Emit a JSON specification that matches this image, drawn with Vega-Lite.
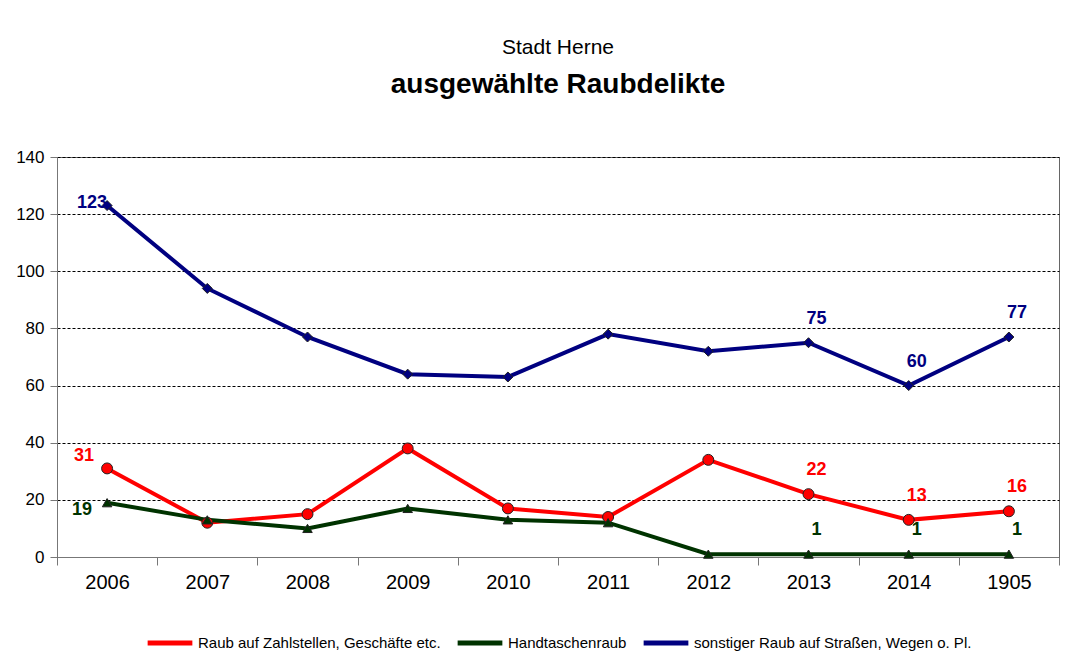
{
  "$schema": "https://vega.github.io/schema/vega-lite/v6.json",
  "width": 1002,
  "height": 400,
  "autosize": {"type": "none"},
  "padding": {"left": 57, "top": 157, "right": 27, "bottom": 105},
  "background": "white",
  "title": {
    "text": "Stadt Herne",
    "subtitle": "ausgewählte Raubdelikte",
    "font": "Liberation Sans",
    "fontSize": 21,
    "fontWeight": "normal",
    "color": "black",
    "subtitleFont": "Liberation Sans",
    "subtitleFontSize": 28,
    "subtitleFontWeight": "bold",
    "subtitleColor": "black",
    "subtitlePadding": 13,
    "anchor": "middle",
    "offset": 49
  },
  "data": {
    "values": [
      {"jahr": "2006", "serie": "Raub auf Zahlstellen, Geschäfte etc.", "wert": 31},
      {"jahr": "2007", "serie": "Raub auf Zahlstellen, Geschäfte etc.", "wert": 12},
      {"jahr": "2008", "serie": "Raub auf Zahlstellen, Geschäfte etc.", "wert": 15},
      {"jahr": "2009", "serie": "Raub auf Zahlstellen, Geschäfte etc.", "wert": 38},
      {"jahr": "2010", "serie": "Raub auf Zahlstellen, Geschäfte etc.", "wert": 17},
      {"jahr": "2011", "serie": "Raub auf Zahlstellen, Geschäfte etc.", "wert": 14},
      {"jahr": "2012", "serie": "Raub auf Zahlstellen, Geschäfte etc.", "wert": 34},
      {"jahr": "2013", "serie": "Raub auf Zahlstellen, Geschäfte etc.", "wert": 22},
      {"jahr": "2014", "serie": "Raub auf Zahlstellen, Geschäfte etc.", "wert": 13},
      {"jahr": "1905", "serie": "Raub auf Zahlstellen, Geschäfte etc.", "wert": 16},
      {"jahr": "2006", "serie": "Handtaschenraub", "wert": 19},
      {"jahr": "2007", "serie": "Handtaschenraub", "wert": 13},
      {"jahr": "2008", "serie": "Handtaschenraub", "wert": 10},
      {"jahr": "2009", "serie": "Handtaschenraub", "wert": 17},
      {"jahr": "2010", "serie": "Handtaschenraub", "wert": 13},
      {"jahr": "2011", "serie": "Handtaschenraub", "wert": 12},
      {"jahr": "2012", "serie": "Handtaschenraub", "wert": 1},
      {"jahr": "2013", "serie": "Handtaschenraub", "wert": 1},
      {"jahr": "2014", "serie": "Handtaschenraub", "wert": 1},
      {"jahr": "1905", "serie": "Handtaschenraub", "wert": 1},
      {"jahr": "2006", "serie": "sonstiger Raub auf Straßen, Wegen o. Pl.", "wert": 123},
      {"jahr": "2007", "serie": "sonstiger Raub auf Straßen, Wegen o. Pl.", "wert": 94},
      {"jahr": "2008", "serie": "sonstiger Raub auf Straßen, Wegen o. Pl.", "wert": 77},
      {"jahr": "2009", "serie": "sonstiger Raub auf Straßen, Wegen o. Pl.", "wert": 64},
      {"jahr": "2010", "serie": "sonstiger Raub auf Straßen, Wegen o. Pl.", "wert": 63},
      {"jahr": "2011", "serie": "sonstiger Raub auf Straßen, Wegen o. Pl.", "wert": 78},
      {"jahr": "2012", "serie": "sonstiger Raub auf Straßen, Wegen o. Pl.", "wert": 72},
      {"jahr": "2013", "serie": "sonstiger Raub auf Straßen, Wegen o. Pl.", "wert": 75},
      {"jahr": "2014", "serie": "sonstiger Raub auf Straßen, Wegen o. Pl.", "wert": 60},
      {"jahr": "1905", "serie": "sonstiger Raub auf Straßen, Wegen o. Pl.", "wert": 77}
    ]
  },
  "encoding": {
    "x": {
      "field": "jahr",
      "type": "ordinal",
      "sort": ["2006", "2007", "2008", "2009", "2010", "2011", "2012", "2013", "2014", "1905"],
      "scale": {"type": "band", "paddingInner": 0, "paddingOuter": 0},
      "axis": {
        "title": null,
        "labelAngle": 0,
        "tickBand": "extent",
        "ticks": true,
        "tickSize": 8,
        "tickColor": "#777777",
        "domainColor": "#777777",
        "labelFont": "Liberation Sans",
        "labelFontSize": 20,
        "labelColor": "black",
        "labelPadding": 7,
        "grid": false
      }
    },
    "y": {
      "field": "wert",
      "type": "quantitative",
      "scale": {"domain": [0, 140], "nice": false, "zero": true},
      "axis": {
        "title": null,
        "values": [0, 20, 40, 60, 80, 100, 120, 140],
        "tickSize": 7,
        "tickColor": "#777777",
        "domainColor": "#777777",
        "labelFont": "Liberation Sans",
        "labelFontSize": 17,
        "labelColor": "black",
        "labelPadding": 6,
        "grid": true,
        "gridColor": "#000000",
        "gridDash": [3, 2],
        "gridWidth": 1
      }
    },
    "color": {
      "field": "serie",
      "type": "nominal",
      "sort": ["Raub auf Zahlstellen, Geschäfte etc.", "Handtaschenraub", "sonstiger Raub auf Straßen, Wegen o. Pl."],
      "scale": {
        "domain": ["Raub auf Zahlstellen, Geschäfte etc.", "Handtaschenraub", "sonstiger Raub auf Straßen, Wegen o. Pl."],
        "range": ["#ff0000", "#003300", "#000080"]
      },
      "legend": {
        "title": null,
        "orient": "bottom",
        "direction": "horizontal",
        "offset": 26,
        "symbolType": "stroke",
        "symbolStrokeWidth": 5,
        "symbolSize": 2000,
        "labelFont": "Liberation Sans",
        "labelFontSize": 15,
        "labelColor": "black",
        "labelOffset": 3,
        "columnPadding": 6,
        "labelLimit": 400
      }
    }
  },
  "layer": [
    {
      "mark": {"type": "line", "strokeWidth": 4}
    },
    {
      "transform": [{"filter": "datum.serie == 'sonstiger Raub auf Straßen, Wegen o. Pl.'"}],
      "mark": {"type": "point", "shape": "diamond", "filled": true, "stroke": "#222222", "strokeWidth": 1, "size": 100, "opacity": 1}
    },
    {
      "transform": [{"filter": "datum.serie == 'Raub auf Zahlstellen, Geschäfte etc.'"}],
      "mark": {"type": "point", "shape": "circle", "filled": true, "stroke": "#222222", "strokeWidth": 1, "size": 120, "opacity": 1}
    },
    {
      "transform": [{"filter": "datum.serie == 'Handtaschenraub'"}],
      "mark": {"type": "point", "shape": "triangle-up", "filled": true, "stroke": "#222222", "strokeWidth": 1, "size": 90, "opacity": 1}
    },
    {
      "transform": [{"filter": "datum.jahr == '2006' && datum.serie == 'sonstiger Raub auf Straßen, Wegen o. Pl.'"}],
      "mark": {"type": "text", "font": "Liberation Sans", "fontSize": 18, "fontWeight": "bold", "align": "right", "baseline": "middle", "dx": 0, "dy": -3},
      "encoding": {"text": {"field": "wert", "type": "quantitative"}}
    },
    {
      "transform": [{"filter": "datum.jahr == '2006' && datum.serie == 'Raub auf Zahlstellen, Geschäfte etc.'"}],
      "mark": {"type": "text", "font": "Liberation Sans", "fontSize": 18, "fontWeight": "bold", "align": "right", "baseline": "middle", "dx": -13, "dy": -12},
      "encoding": {"text": {"field": "wert", "type": "quantitative"}}
    },
    {
      "transform": [{"filter": "datum.jahr == '2006' && datum.serie == 'Handtaschenraub'"}],
      "mark": {"type": "text", "font": "Liberation Sans", "fontSize": 18, "fontWeight": "bold", "align": "right", "baseline": "middle", "dx": -15, "dy": 7},
      "encoding": {"text": {"field": "wert", "type": "quantitative"}}
    },
    {
      "transform": [{"filter": "datum.jahr == '2013' || datum.jahr == '2014' || datum.jahr == '1905'"}],
      "mark": {"type": "text", "font": "Liberation Sans", "fontSize": 18, "fontWeight": "bold", "align": "center", "baseline": "bottom", "dx": 8, "dy": -15},
      "encoding": {"text": {"field": "wert", "type": "quantitative"}}
    }
  ],
  "config": {
    "view": {"stroke": "#666666", "strokeWidth": 1},
    "legend": {"layout": {"bottom": {"anchor": "middle"}}}
  }
}
